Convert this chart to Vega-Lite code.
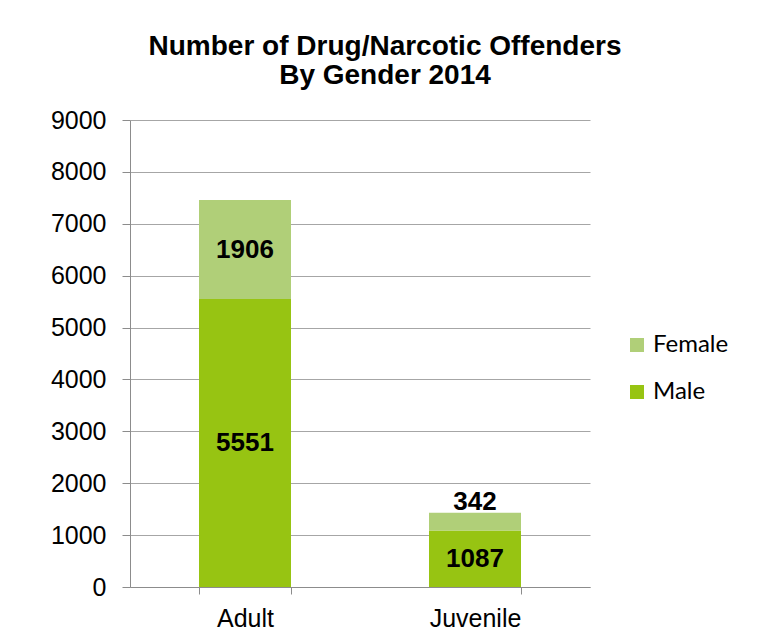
{
  "$schema": "https://vega.github.io/schema/vega-lite/v6.json",
  "autosize": {"type": "none"},
  "width": 460,
  "height": 467,
  "padding": {"left": 130, "top": 120, "right": 177, "bottom": 54},
  "background": "white",
  "title": {
    "text": ["Number of Drug/Narcotic Offenders", "By Gender 2014"],
    "font": "Liberation Sans",
    "fontSize": 28,
    "fontWeight": "bold",
    "color": "black",
    "anchor": "middle",
    "dx": 25,
    "offset": 18,
    "lineHeight": 29
  },
  "data": {
    "values": [
      {"cat": "Adult", "gender": "Male", "value": 5551},
      {"cat": "Adult", "gender": "Female", "value": 1906},
      {"cat": "Juvenile", "gender": "Male", "value": 1087},
      {"cat": "Juvenile", "gender": "Female", "value": 342}
    ]
  },
  "transform": [
    {"stack": "value", "groupby": ["cat"], "sort": [{"field": "gender", "order": "descending"}], "as": ["v0", "v1"]},
    {"calculate": "(datum.v0 + datum.v1) / 2", "as": "mid"}
  ],
  "encoding": {
    "x": {
      "field": "cat",
      "type": "nominal",
      "title": null,
      "scale": {"paddingInner": 0.6, "paddingOuter": 0.3},
      "axis": {
        "labelAngle": 0,
        "labelFont": "Liberation Sans",
        "labelFontSize": 25,
        "labelColor": "black",
        "labelPadding": 12,
        "tickBand": "extent",
        "tickColor": "#8c8c8c",
        "tickSize": 7,
        "domainColor": "#8c8c8c",
        "grid": false
      }
    }
  },
  "layer": [
    {
      "mark": {"type": "bar"},
      "encoding": {
        "y": {
          "field": "v0",
          "type": "quantitative",
          "title": null,
          "scale": {"domain": [0, 9000]},
          "axis": {
            "values": [0, 1000, 2000, 3000, 4000, 5000, 6000, 7000, 8000, 9000],
            "format": "d",
            "labelFont": "Liberation Sans",
            "labelFontSize": 25,
            "labelColor": "black",
            "labelPadding": 16,
            "tickColor": "#8c8c8c",
            "tickSize": 8,
            "domainColor": "#8c8c8c",
            "gridColor": "#a6a6a6"
          }
        },
        "y2": {"field": "v1"},
        "color": {
          "field": "gender",
          "type": "nominal",
          "scale": {"domain": ["Female", "Male"], "range": ["#b0cf78", "#97c412"]},
          "legend": {
            "title": null,
            "orient": "none",
            "legendX": 495,
            "legendY": 213,
            "symbolType": "square",
            "symbolSize": 196,
            "symbolStrokeWidth": 0,
            "labelFont": "Lato",
            "labelFontSize": 24,
            "labelColor": "black",
            "rowPadding": 23,
            "labelOffset": 4
          }
        }
      }
    },
    {
      "transform": [{"filter": "!(datum.cat == 'Juvenile' && datum.gender == 'Female')"}],
      "mark": {"type": "text", "font": "Liberation Sans", "fontSize": 26, "fontWeight": "bold", "color": "black", "baseline": "middle"},
      "encoding": {
        "y": {"field": "mid", "type": "quantitative"},
        "text": {"field": "value", "type": "quantitative", "format": "d"}
      }
    },
    {
      "transform": [{"filter": "datum.cat == 'Juvenile' && datum.gender == 'Female'"}],
      "mark": {"type": "text", "font": "Liberation Sans", "fontSize": 26, "fontWeight": "bold", "color": "black", "baseline": "middle", "dy": -20},
      "encoding": {
        "y": {"field": "mid", "type": "quantitative"},
        "text": {"field": "value", "type": "quantitative", "format": "d"}
      }
    }
  ],
  "config": {"view": {"stroke": null}}
}
